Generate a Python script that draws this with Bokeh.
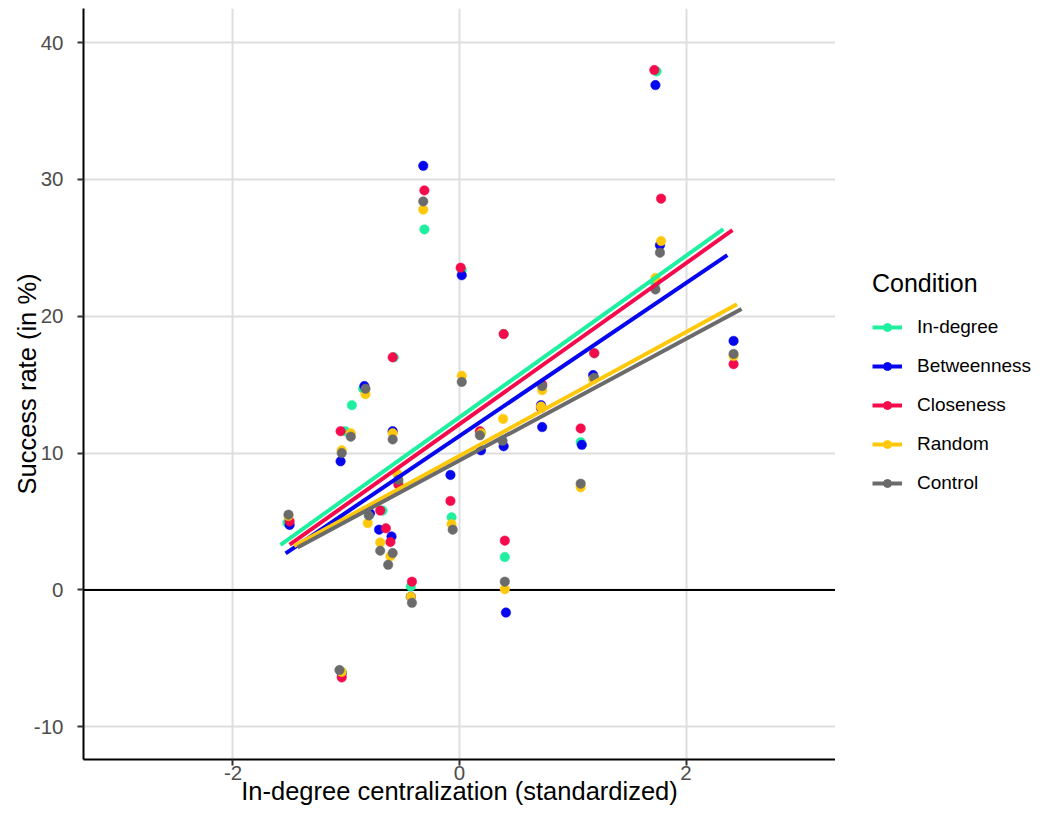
from bokeh.plotting import figure
from bokeh.layouts import row
from bokeh.models import Span, Legend, LegendItem, FixedTicker, Range1d, PrintfTickFormatter
from bokeh.embed import file_html
from bokeh.resources import INLINE

FONT = "Liberation Sans"

conditions = ["In-degree", "Betweenness", "Closeness", "Random", "Control"]
colors = ["#1EF0A0", "#0505F0", "#F50A4B", "#FFC80A", "#6B6B6B"]

indeg_x = [-1.52, -1.04, -1.01, -0.95, -0.85, -0.80, -0.68, -0.58, -0.54, -0.43, -0.31,
           -0.07, 0.02, 0.19, 0.39, 0.40, 0.72, 1.07, 1.19, 1.74, 1.73]
indeg_y = [4.9, -6.0, 11.6, 13.5, 14.7, 5.45, 5.8, 17.0, 7.9, 0.25, 26.35,
           5.3, 23.4, 11.5, 18.7, 2.4, 13.3, 10.8, 17.3, 37.9, 22.4]

betw_x = [-1.50, -1.04, -1.05, -0.84, -0.79, -0.71, -0.60, -0.59, -0.43, -0.32, -0.08,
          0.02, 0.19, 0.39, 0.41, 0.72, 0.73, 1.08, 1.18, 1.73, 1.77, 2.42]
betw_y = [4.75, -6.1, 9.4, 14.9, 5.6, 4.4, 3.9, 11.6, -0.5, 31.0, 8.4,
          23.0, 10.2, 10.5, -1.66, 13.5, 11.9, 10.6, 15.7, 36.9, 25.2, 18.2]

clos_x = [-1.50, -1.04, -1.05, -0.70, -0.65, -0.61, -0.59, -0.54, -0.42, -0.31, -0.08,
          0.01, 0.18, 0.39, 0.40, 0.73, 0.72, 1.07, 1.19, 1.72, 1.78, 2.42]
clos_y = [5.0, -6.4, 11.6, 5.8, 4.5, 3.5, 17.0, 7.7, 0.6, 29.2, 6.5,
          23.55, 11.6, 18.7, 3.6, 15.0, 13.3, 11.8, 17.3, 38.0, 28.6, 16.5]

rand_x = [-1.51, -1.04, -1.04, -0.96, -0.83, -0.81, -0.70, -0.61, -0.59, -0.55, -0.43,
          -0.32, -0.07, 0.02, 0.19, 0.385, 0.40, 0.73, 0.72, 1.07, 1.18, 1.78, 1.73, 2.42]
rand_y = [5.4, -6.0, 10.2, 11.45, 14.3, 4.88, 3.46, 2.45, 11.45, 8.5, -0.5,
          27.8, 4.8, 15.65, 11.45, 12.5, 0.05, 14.6, 13.4, 7.5, 15.4, 25.5, 22.8, 17.1]

ctrl_x = [-1.51, -1.06, -1.04, -0.96, -0.83, -0.80, -0.70, -0.59, -0.63, -0.59, -0.54,
          -0.42, -0.32, -0.06, 0.02, 0.18, 0.38, 0.40, 0.73, 1.07, 1.19, 1.77, 1.73, 2.42]
ctrl_y = [5.5, -5.86, 10.0, 11.2, 14.7, 5.44, 2.86, 2.69, 1.83, 11.0, 8.05,
          -0.95, 28.4, 4.4, 15.2, 11.3, 10.9, 0.6, 14.9, 7.76, 15.5, 24.65, 21.96, 17.25]

# linear fits (per condition)
fit_intercept = [12.62, 11.25, 12.12, 9.80, 9.46]
fit_slope = [5.90, 5.59, 5.88, 4.52, 4.45]
fit_xmin = [-1.58, -1.535, -1.50, -1.46, -1.43]
fit_xmax = [2.33, 2.365, 2.41, 2.45, 2.49]

x_ticks = [-2, 0, 2]
y_ticks = [-10, 0, 10, 20, 30, 40]

xs_all = [indeg_x, betw_x, clos_x, rand_x, ctrl_x]
ys_all = [indeg_y, betw_y, clos_y, rand_y, ctrl_y]

p = figure(width=835, height=807,
           min_border_left=83, min_border_right=0, min_border_top=8, min_border_bottom=47,
           x_range=Range1d(-3.32, 3.32), y_range=Range1d(-12.4, 42.5),
           output_backend="svg", toolbar_location=None,
           x_axis_label="In-degree centralization (standardized)",
           y_axis_label="Success rate (in %)")

p.outline_line_color = None
p.background_fill_color = "white"
p.border_fill_color = "white"

for g in (p.xgrid, p.ygrid):
    g.grid_line_color = "#DEDEDE"
    g.grid_line_width = 2
    g.minor_grid_line_color = None
p.xaxis.ticker = FixedTicker(ticks=x_ticks)
p.yaxis.ticker = FixedTicker(ticks=y_ticks)

for ax in (p.xaxis, p.yaxis):
    ax.formatter = PrintfTickFormatter(format="%d")
    ax.axis_line_color = "black"
    ax.axis_line_width = 2
    ax.major_tick_line_color = "#333333"
    ax.major_tick_line_width = 2
    ax.major_tick_in = 0
    ax.major_tick_out = 6
    ax.minor_tick_line_color = None
    ax.major_label_text_font = FONT
    ax.major_label_text_font_size = "20.5px"
    ax.major_label_text_color = "#4D4D4D"
    ax.axis_label_text_font = FONT
    ax.axis_label_text_font_size = "25.5px"
    ax.axis_label_text_font_style = "normal"
    ax.axis_label_text_color = "black"

p.xaxis.major_label_standoff = 0
p.xaxis.axis_label_standoff = -6
p.yaxis.major_label_standoff = 14
p.yaxis.axis_label_standoff = -10

zero = Span(location=0, dimension="width", line_color="black", line_width=2, level="underlay")
p.add_layout(zero)

for xs, ys, c in zip(xs_all, ys_all, colors):
    p.scatter(xs, ys, size=9.5, fill_color=c, line_color=c, line_width=0.5)

for b0, b1, x0, x1, c in zip(fit_intercept, fit_slope, fit_xmin, fit_xmax, colors):
    lx = [x0, x1]
    ly = [b0 + b1 * x0, b0 + b1 * x1]
    p.line(lx, ly, line_color=c, line_width=4)

# legend panel
p2 = figure(width=196, height=807, min_border_left=0, min_border_right=0,
            min_border_top=0, min_border_bottom=0,
            x_range=Range1d(0, 1), y_range=Range1d(0, 1),
            x_axis_location=None, y_axis_location=None,
            output_backend="svg", toolbar_location=None)
p2.outline_line_color = None
p2.xgrid.visible = False
p2.ygrid.visible = False

nan = float("nan")
items = []
for name, c in zip(conditions, colors):
    lr = p2.line(x=[nan, nan], y=[nan, nan], line_color=c, line_width=4)
    sr = p2.scatter(x=[nan], y=[nan], size=9.5, fill_color=c, line_color=c)
    items.append(LegendItem(label=name, renderers=[lr, sr]))

legend = Legend(items=items, location=(37, 265), title="Condition",
                title_text_font=FONT, title_text_font_size="25px", title_text_font_style="normal",
                title_text_color="black", title_standoff=18,
                label_text_font=FONT, label_text_font_size="19px", label_text_color="black",
                glyph_width=30, glyph_height=20, label_height=20, label_standoff=15,
                spacing=17, padding=0, margin=0, border_line_color=None,
                background_fill_alpha=0)
p2.add_layout(legend)

layout = row(p, p2)
open("out.html", "w").write(file_html(layout, INLINE))
